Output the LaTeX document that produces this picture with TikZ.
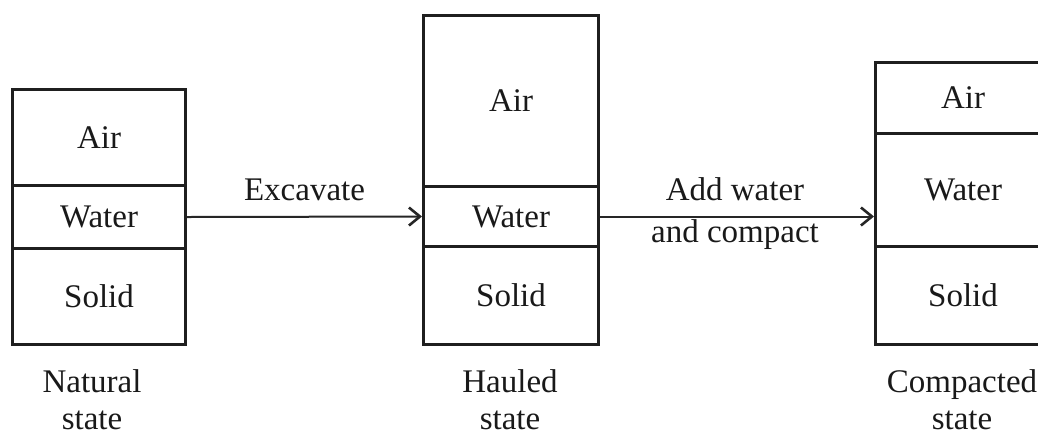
\documentclass[tikz,border=0pt]{standalone}
\usepackage{fontspec}
\setmainfont{Liberation Serif}
\usetikzlibrary{arrows.meta,positioning}

\begin{document}
\begin{tikzpicture}[x=0.5pt,y=-0.5pt,
  font=\fontsize{16.5}{20}\selectfont,
  phase/.style={draw=black!88, line width=1.5pt, inner sep=0pt, anchor=north west},
  flow/.style={draw=black!85, line width=1pt, -{Straight Barb[length=5.5pt,width=9pt,line width=1.3pt]}},
  caption/.style={align=center, text=black!90},
  tag/.style={text=black!90}
]
\clip (0,0) rectangle (1038,435);
\useasboundingbox (0,0) rectangle (1038,435);

% Natural state column
\node[phase, minimum width=86.5pt, minimum height=48pt]   (a1) at (11,88)  {};
\node[phase, minimum width=86.5pt, minimum height=31.5pt] (w1) at (11,184) {};
\node[phase, minimum width=86.5pt, minimum height=48pt]   (s1) at (11,247) {};
\node[tag] at (a1.center) {Air};
\node[tag] at (w1.center) {Water};
\node[tag] at (s1.center) {Solid};

% Hauled state column
\node[phase, minimum width=87.5pt, minimum height=85.5pt] (a2) at (422,14)  {};
\node[phase, minimum width=87.5pt, minimum height=30pt]   (w2) at (422,185) {};
\node[phase, minimum width=87.5pt, minimum height=49pt]   (s2) at (422,245) {};
\node[tag] at (a2.center) {Air};
\node[tag] at (w2.center) {Water};
\node[tag] at (s2.center) {Solid};

% Compacted state column
\node[phase, minimum width=87.5pt, minimum height=35.5pt] (a3) at (874,61)  {};
\node[phase, minimum width=87.5pt, minimum height=56.5pt] (w3) at (874,132) {};
\node[phase, minimum width=87.5pt, minimum height=49pt]   (s3) at (874,245) {};
\node[tag] at (a3.center) {Air};
\node[tag] at (w3.center) {Water};
\node[tag] at (s3.center) {Solid};

% Process arrows
\draw[flow] (w1.east) -- node[above=4pt, tag] (ex) {Excavate} (w2.west);
\coordinate (t3) at (w2.east -| w3.west);
\draw[flow] (w2.east) -- (t3);
\node[tag, anchor=base] (ac1) at (735,200) {Add water};
\node[tag, anchor=base] (ac2) at (735,242) {and compact};

% Column captions
\node[caption, font=\fontsize{16.5}{18.5}\selectfont] (n1) at (92,400)  {Natural\\state};
\node[caption, font=\fontsize{16.5}{18.5}\selectfont] (n2) at (510,400) {Hauled\\state};
\node[caption, font=\fontsize{16.5}{18.5}\selectfont] (n3) at (962,400) {Compacted\\state};
\end{tikzpicture}
\end{document}
